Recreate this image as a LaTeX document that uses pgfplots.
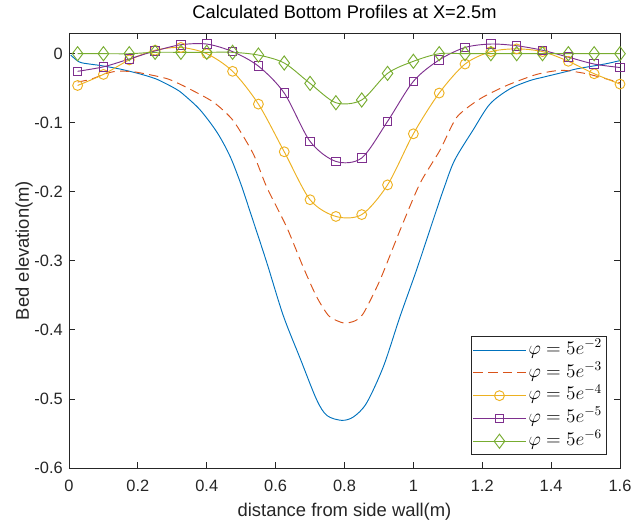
\documentclass[border=0pt]{standalone}
\usepackage{pgfplots}
\pgfplotsset{compat=1.18}
\usepackage{fontspec}
\setmainfont{Liberation Sans}
\usetikzlibrary{calc}
\definecolor{mblue}{rgb}{0,0.447,0.741}
\definecolor{mred}{rgb}{0.85,0.325,0.098}
\definecolor{myellow}{rgb}{0.929,0.694,0.125}
\definecolor{mpurple}{rgb}{0.494,0.184,0.556}
\definecolor{mgreen}{rgb}{0.466,0.674,0.188}
\definecolor{axgray}{rgb}{0.15,0.15,0.15}
\begin{document}
\begin{tikzpicture}
\begin{axis}[
  scale only axis,
  width=413.25pt, height=326.25pt,
  xmin=0, xmax=1.6, ymin=-0.6, ymax=0.03,
  xtick={0,0.2,0.4,0.6,0.8,1,1.2,1.4,1.6},
  xticklabels={0,0.2,0.4,0.6,0.8,1,1.2,1.4,1.6},
  ytick={-0.6,-0.5,-0.4,-0.3,-0.2,-0.1,0},
  yticklabels={-0.6,-0.5,-0.4,-0.3,-0.2,-0.1,0},
  tick align=inside,
  major tick length=4.5pt,
  axis line style={axgray, line width=0.6pt},
  every tick/.style={axgray, line width=0.6pt},
  tick label style={font=\fontsize{12.3}{14}\selectfont, text=axgray},
  xticklabel style={anchor=base, yshift=-17.8pt},
  yticklabel style={anchor=east, xshift=-1.2pt},
  title={Calculated Bottom Profiles at X=2.5m},
  title style={at={(axis description cs:0.5,1)}, anchor=base, yshift=4.8pt, font=\fontsize{13.7}{15}\selectfont},
  xlabel={distance from side wall(m)},
  xlabel style={at={(axis description cs:0.5,0)}, anchor=base, yshift=-36.5pt, font=\fontsize{13.8}{15}\selectfont, text=axgray},
  ylabel={Bed elevation(m)},
  ylabel style={at={(axis description cs:0,0.5)}, anchor=base, yshift=30pt, font=\fontsize{13.8}{15}\selectfont, text=axgray},
  legend style={at={(axis description cs:1,0)}, anchor=south east, xshift=-9.75pt, yshift=9.75pt,
    draw=axgray, line width=0.5pt, inner sep=1.5pt, row sep=0pt,
    nodes={font=\fontsize{14}{14}\selectfont, text height=10.5pt, text depth=4pt, inner ysep=1.3pt, inner xsep=2pt}},
  legend cell align=left,
  legend image code/.code={\draw[mark repeat=2,mark phase=2] plot coordinates {(0pt,0pt) (19.5pt,0pt) (39pt,0pt)};},
]
\addplot[mblue, line width=0.7pt, smooth, tension=0.5] coordinates {
(0.005,-0.002) (0.03,-0.012) (0.06,-0.015) (0.09,-0.017) (0.146,-0.022) (0.204,-0.029) (0.25,-0.036)
(0.28,-0.043) (0.31,-0.051) (0.33,-0.058) (0.38,-0.081) (0.43,-0.114) (0.468,-0.149) (0.50,-0.190) (0.526,-0.229)
(0.574,-0.302) (0.622,-0.379) (0.671,-0.441) (0.719,-0.501) (0.749,-0.524) (0.792,-0.531) (0.826,-0.526)
(0.864,-0.506) (0.913,-0.453) (0.961,-0.381) (1.010,-0.312) (1.058,-0.240) (1.09,-0.193) (1.12,-0.154) (1.174,-0.110)
(1.222,-0.073) (1.28,-0.051) (1.338,-0.039) (1.377,-0.034) (1.435,-0.027) (1.474,-0.022) (1.532,-0.017)
(1.565,-0.014) (1.6,-0.010)};
\addlegendentry{$\varphi=5e^{-2}$}
\addplot[mred, line width=0.7pt, dash pattern=on 7pt off 4pt, smooth, tension=0.4] coordinates {
(0.025,-0.041) (0.064,-0.037) (0.1,-0.030) (0.136,-0.0255) (0.185,-0.026) (0.24,-0.031) (0.29,-0.037)
(0.342,-0.049) (0.419,-0.070) (0.477,-0.097) (0.535,-0.145) (0.574,-0.193) (0.632,-0.251) (0.680,-0.309)
(0.719,-0.352) (0.755,-0.380) (0.797,-0.390) (0.830,-0.387) (0.855,-0.376) (0.903,-0.328) (0.961,-0.256)
(1.019,-0.188) (1.077,-0.140) (1.126,-0.092) (1.193,-0.0655) (1.271,-0.046) (1.358,-0.030) (1.43,-0.024)
(1.503,-0.029) (1.571,-0.038) (1.6,-0.042)};
\addlegendentry{$\varphi=5e^{-3}$}
\addplot[myellow, line width=0.7pt, smooth, mark=o, mark size=3.7pt, mark options={solid}] coordinates {
(0.025,-0.046) (0.1,-0.030) (0.175,-0.009) (0.25,0.005) (0.325,0.009) (0.4,0.000) (0.475,-0.0255)
(0.55,-0.073) (0.625,-0.142) (0.7,-0.2115) (0.775,-0.2357) (0.85,-0.233) (0.925,-0.190) (1.0,-0.116)
(1.075,-0.057) (1.15,-0.015) (1.225,0.003) (1.3,0.007) (1.375,0.003) (1.45,-0.011) (1.525,-0.029) (1.6,-0.044)};
\addlegendentry{$\varphi=5e^{-4}$}
\addplot[mpurple, line width=0.7pt, smooth, mark=square, mark size=3.2pt, mark options={solid}] coordinates {
(0.025,-0.0255) (0.1,-0.019) (0.175,-0.0077) (0.25,0.004) (0.325,0.013) (0.4,0.014) (0.475,0.003)
(0.55,-0.018) (0.625,-0.057) (0.7,-0.127) (0.775,-0.156) (0.85,-0.151) (0.925,-0.098) (1.0,-0.040)
(1.075,-0.009) (1.15,0.009) (1.225,0.014) (1.3,0.0115) (1.375,0.005) (1.45,-0.005) (1.525,-0.015) (1.6,-0.020)};
\addlegendentry{$\varphi=5e^{-5}$}
\addplot[mgreen, line width=0.7pt, smooth, mark=diamond, mark size=5.3pt, mark options={solid}] coordinates {
(0.025,0) (0.1,0) (0.175,0) (0.25,0.002) (0.325,0.002) (0.4,0.002) (0.475,0.002)
(0.55,-0.002) (0.625,-0.0135) (0.7,-0.043) (0.775,-0.071) (0.85,-0.067) (0.925,-0.0285) (1.0,-0.011)
(1.075,0) (1.15,0) (1.225,0) (1.3,0) (1.375,0) (1.45,0) (1.525,0) (1.6,0)};
\addlegendentry{$\varphi=5e^{-6}$}
\end{axis}
\pgfresetboundingbox
\path[use as bounding box] ($(current axis.south west)+(-51.75pt,-40.5pt)$) rectangle ($(current axis.north east)+(10.5pt,24.75pt)$);
\end{tikzpicture}
\end{document}
